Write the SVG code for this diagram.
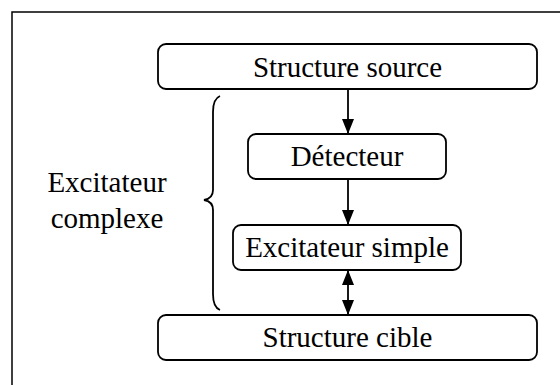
<svg xmlns="http://www.w3.org/2000/svg" width="560" height="385" viewBox="0 0 560 385">
<style>
.box{fill:#fff;stroke:#000;stroke-width:1.8}
.lbl{font-family:"Liberation Serif","Times New Roman",serif;font-size:29px;fill:#000;text-anchor:middle}
.con{stroke:#000;stroke-width:1.8;fill:none}
</style>
<defs>
<marker id="ah" markerWidth="15" markerHeight="12" refX="15" refY="6" orient="auto" markerUnits="userSpaceOnUse" viewBox="0 0 15 12">
<path d="M0,0 L15,6 L0,12 Z" fill="#000"/>
</marker>
<marker id="ahs" markerWidth="15" markerHeight="12" refX="0" refY="6" orient="auto" markerUnits="userSpaceOnUse" viewBox="0 0 15 12">
<path d="M15,0 L0,6 L15,12 Z" fill="#000"/>
</marker>
</defs>
<rect x="0" y="0" width="560" height="385" fill="#fff"/>
<rect x="12" y="12" width="600" height="400" fill="none" stroke="#000" stroke-width="1.5"/>
<g id="connectors">
<line class="con" x1="348" y1="89" x2="348" y2="134" marker-end="url(#ah)"/>
<line class="con" x1="348" y1="179" x2="348" y2="225" marker-end="url(#ah)"/>
<line class="con" x1="348" y1="270" x2="348" y2="315" marker-start="url(#ahs)" marker-end="url(#ah)"/>
</g>
<g id="brace">
<path class="con" d="M220,96 C215,98 213,103 213,112 L213,190 C213,196 210,199 204,200 C210,201 213,204 213,210 L213,294 C213,303 215,308 220,310"/>
</g>
<g id="excitateur-complexe">
<text class="lbl" x="107" y="192">Excitateur</text>
<text class="lbl" x="107" y="228">complexe</text>
</g>
<g id="structure-source">
<rect class="box" x="158" y="44" width="379" height="45" rx="8"/>
<text class="lbl" x="347.5" y="76.5">Structure source</text>
</g>
<g id="detecteur">
<rect class="box" x="248" y="134" width="198" height="45" rx="8"/>
<text class="lbl" x="347" y="166">Détecteur</text>
</g>
<g id="excitateur-simple">
<rect class="box" x="233" y="225" width="228" height="45" rx="8"/>
<text class="lbl" x="347" y="257">Excitateur simple</text>
</g>
<g id="structure-cible">
<rect class="box" x="158" y="315" width="379" height="45" rx="8"/>
<text class="lbl" x="347.5" y="347">Structure cible</text>
</g>
</svg>
